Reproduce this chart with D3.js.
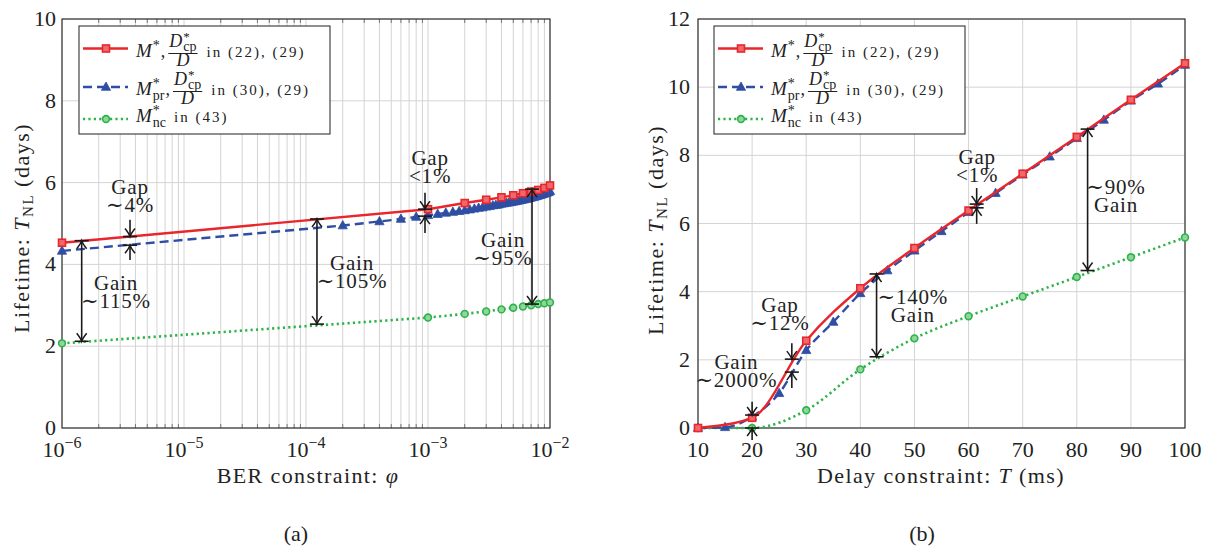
<!DOCTYPE html>
<meta charset="utf-8">
<script src="https://d3js.org/d3.v7.min.js"></script>
<style>
  body { margin: 0; background: #fff; }
  svg text { font-family: "Liberation Serif", "DejaVu Serif", "Noto Serif", "FreeSerif", "Tinos", "Times New Roman", Times, serif; fill: #222; }
</style>
<body>
<div id="my_dataviz"></div>
<script>
// ---- panel (a): lifetime vs BER constraint ----
var berMarks = [1e-6, 1e-3, 2e-3, 3e-3, 4e-3, 5e-3, 6e-3, 7e-3, 8e-3, 9e-3, 1e-2];
var lifeOptA = [4.53, 5.35, 5.50, 5.58, 5.64, 5.69, 5.74, 5.78, 5.82, 5.87, 5.93];
var lifeNcA  = [2.07, 2.70, 2.79, 2.85, 2.90, 2.94, 2.97, 3.00, 3.03, 3.05, 3.07];
var berPr = [1e-6, 2e-4, 4e-4, 6e-4, 8e-4, 1e-3, 1.2e-3, 1.4e-3, 1.6e-3, 1.8e-3, 2e-3,
  2.2e-3, 2.4e-3, 2.6e-3, 2.8e-3, 3e-3, 3.2e-3, 3.4e-3, 3.6e-3, 3.8e-3, 4e-3,
  4.2e-3, 4.4e-3, 4.6e-3, 4.8e-3, 5e-3, 5.2e-3, 5.4e-3, 5.6e-3, 5.8e-3, 6e-3,
  6.2e-3, 6.4e-3, 6.6e-3, 6.8e-3, 7e-3, 7.2e-3, 7.4e-3, 7.6e-3, 7.8e-3, 8e-3,
  8.2e-3, 8.4e-3, 8.6e-3, 8.8e-3, 9e-3, 9.2e-3, 9.4e-3, 9.6e-3, 9.8e-3, 1e-2];
var lifePrA = [4.33, 4.95, 5.05, 5.11, 5.16, 5.20, 5.23, 5.26, 5.28, 5.30, 5.32,
  5.34, 5.36, 5.38, 5.39, 5.41, 5.42, 5.44, 5.45, 5.46, 5.48,
  5.49, 5.50, 5.51, 5.52, 5.53, 5.54, 5.55, 5.56, 5.57, 5.58,
  5.59, 5.60, 5.61, 5.62, 5.63, 5.64, 5.65, 5.66, 5.67, 5.68,
  5.69, 5.70, 5.71, 5.72, 5.73, 5.74, 5.75, 5.76, 5.77, 5.79];

// ---- panel (b): lifetime vs delay constraint ----
var delayMarks = [10, 20, 30, 40, 50, 60, 70, 80, 90, 100];
var lifeOptB = [0, 0.30, 2.56, 4.10, 5.28, 6.38, 7.46, 8.54, 9.63, 10.70];
var lifeNcB  = [0, 0, 0.52, 1.72, 2.63, 3.28, 3.86, 4.43, 5.01, 5.59];
var delayPr = [10, 15, 20, 25, 30, 35, 40, 45, 50, 55, 60, 65, 70, 75, 80, 85, 90, 95, 100];
var lifePrB = [0, 0.02, 0.33, 1.02, 2.28, 3.11, 3.95, 4.62, 5.20, 5.77, 6.33, 6.89,
  7.43, 7.96, 8.50, 9.04, 9.60, 10.10, 10.65];

// ticks
var yTicksA = [0, 2, 4, 6, 8, 10];
var decadesA = [1e-6, 1e-5, 1e-4, 1e-3, 1e-2];
var decadeExpA = ["\u22126", "\u22125", "\u22124", "\u22123", "\u22122"];
var yTicksB = [0, 2, 4, 6, 8, 10, 12];
var xTicksB = [10, 20, 30, 40, 50, 60, 70, 80, 90, 100];

// annotations, in data units: arrow x, arrow ends, label anchor
var gapsA = [
  {x: 3.61e-6, top: 5.09, hi: 4.68, lo: 4.47, bottom: 4.11, lx: 3.61e-6, ly: 5.72, lines: ["Gap", "\u223C4%"]},
  {x: 9.45e-4, top: 5.75, hi: 5.35, lo: 5.18, bottom: 4.77, lx: 1.04e-3, ly: 6.43, lines: ["Gap", "<1%"]}
];
var gainsA = [
  {x: 1.45e-6, hi: 4.58, lo: 2.12, lx: 2.77e-6, ly: 3.37, lines: ["Gain", "\u223C115%"]},
  {x: 1.23e-4, hi: 5.11, lo: 2.54, lx: 2.38e-4, ly: 3.86, lines: ["Gain", "\u223C105%"]},
  {x: 7.12e-3, hi: 5.84, lo: 3.03, lx: 4.12e-3, ly: 4.43, lines: ["Gain", "\u223C95%"]}
];
var gapsB = [
  {x: 20, top: 0.77, hi: 0.38, lo: 0, bottom: -0.35, lx: 17.1, ly: 1.73, lines: ["Gain", "\u223C2000%"]},
  {x: 27.34, top: 2.49, hi: 2.02, lo: 1.64, bottom: 1.17, lx: 25.15, ly: 3.40, lines: ["Gap", "\u223C12%"]},
  {x: 61.5, top: 7.04, hi: 6.57, lo: 6.46, bottom: 5.99, lx: 61.6, ly: 7.75, lines: ["Gap", "<1%"]}
];
var gainsB = [
  {x: 43.0, hi: 4.52, lo: 2.09, lx: 49.7, ly: 3.65, lines: ["\u223C140%", "Gain"]},
  {x: 82.0, hi: 8.77, lo: 4.62, lx: 87.25, ly: 6.87, lines: ["\u223C90%", "Gain"]}
];

var RED = "#e8262b", BLUE = "#2f4ea3", GREEN = "#2eb34a", GRID = "#d4d4d4";
var SERIF = "'Liberation Serif', 'DejaVu Serif', 'Noto Serif', FreeSerif, Tinos, 'Times New Roman', Times, serif";

var svg = d3.select("#my_dataviz").append("svg")
  .attr("width", 1206).attr("height", 548)
  .attr("font-family", SERIF);

var plotTop = 19, plotBottom = 428;

// scales
var xA = d3.scaleLog().domain([1e-6, 1e-2]).range([62, 550]);
var yA = d3.scaleLinear().domain([0, 10]).range([plotBottom, plotTop]);
var xB = d3.scaleLinear().domain([10, 100]).range([698, 1185]);
var yB = d3.scaleLinear().domain([0, 12]).range([plotBottom, plotTop]);

// ---------- helpers ----------
function put(g, x, y, str, size, opts) {
  opts = opts || {};
  var t = g.append("text").attr("x", x).attr("y", y)
    .style("font-family", SERIF)
    .style("font-size", size + "px").text(str);
  if (opts.italic) t.style("font-style", "italic");
  if (opts.anchor) t.attr("text-anchor", opts.anchor);
  if (opts.spacing) t.style("letter-spacing", opts.spacing + "px");
  return t.node().getComputedTextLength();
}

function marker(g, type, x, y) {
  if (type == "square") {
    g.append("rect").attr("x", x - 3.5).attr("y", y - 3.5).attr("width", 7).attr("height", 7)
      .attr("fill", "#f0686b").attr("stroke", RED).attr("stroke-width", 1.6);
  } else if (type == "triangle") {
    g.append("path").attr("d", "M" + x + "," + (y - 5) + "L" + (x + 4.6) + "," + (y + 3.3) + "L" + (x - 4.6) + "," + (y + 3.3) + "Z")
      .attr("fill", BLUE).attr("stroke", BLUE).attr("stroke-width", 0.8);
  } else {
    g.append("circle").attr("cx", x).attr("cy", y).attr("r", 3.4)
      .attr("fill", "#8fd69c").attr("stroke", GREEN).attr("stroke-width", 1.6);
  }
}

var styles = {
  red: {color: RED, dash: null, width: 2.4, mark: "square"},
  blue: {color: BLUE, dash: "9,5", width: 2.4, mark: "triangle"},
  green: {color: GREEN, dash: "2.2,3.2", width: 2.6, mark: "circle"}
};

function series(g, xs, ys, x, y, st, curve) {
  var pts = xs.map(function(d, i) { return [d, ys[i]]; });
  g.append("path").datum(pts)
    .attr("fill", "none").attr("stroke", st.color).attr("stroke-width", st.width)
    .attr("stroke-dasharray", st.dash)
    .attr("d", d3.line().curve(curve)
      .x(function(d) { return x(d[0]); })
      .y(function(d) { return y(d[1]); }));
  pts.forEach(function(d) { marker(g, st.mark, x(d[0]), y(d[1])); });
}

function head(g, x, yt, dir) {
  // "to" style chevron with a bar at the tip; dir = +1 pointing down
  g.append("path")
    .attr("d", "M" + (x - 5) + "," + (yt - dir * 8) + "Q" + (x - 1) + "," + (yt - dir * 3) + " " + x + "," + yt +
      "Q" + (x + 1) + "," + (yt - dir * 3) + " " + (x + 5) + "," + (yt - dir * 8))
    .attr("fill", "none").attr("stroke", "#1a1a1a").attr("stroke-width", 1.5);
  g.append("line").attr("x1", x - 7).attr("x2", x + 7).attr("y1", yt).attr("y2", yt)
    .attr("stroke", "#1a1a1a").attr("stroke-width", 1.6);
}

function label(g, px, py, lines) {
  lines.forEach(function(s, i) {
    put(g, px, py + i * 18, s, 21, {anchor: "middle", spacing: 0.8});
  });
}

function gap(g, a, x, y) {
  var px = x(a.x);
  g.append("line").attr("x1", px).attr("x2", px).attr("y1", y(a.top)).attr("y2", y(a.hi))
    .attr("stroke", "#1a1a1a").attr("stroke-width", 1.6);
  head(g, px, y(a.hi), 1);
  g.append("line").attr("x1", px).attr("x2", px).attr("y1", y(a.bottom)).attr("y2", y(a.lo))
    .attr("stroke", "#1a1a1a").attr("stroke-width", 1.6);
  head(g, px, y(a.lo), -1);
  label(g, x(a.lx), y(a.ly), a.lines);
}

function gain(g, a, x, y) {
  var px = x(a.x);
  g.append("line").attr("x1", px).attr("x2", px).attr("y1", y(a.hi)).attr("y2", y(a.lo))
    .attr("stroke", "#1a1a1a").attr("stroke-width", 1.6);
  head(g, px, y(a.hi), -1);
  head(g, px, y(a.lo), 1);
  label(g, x(a.lx), y(a.ly), a.lines);
}

function legend(g, x0) {
  g.append("rect").attr("x", x0).attr("y", 26).attr("width", 251).attr("height", 108)
    .attr("fill", "#fff").attr("stroke", "#333").attr("stroke-width", 1.1);
  var rows = [{st: styles.red, ly: 48.5}, {st: styles.blue, ly: 87}, {st: styles.green, ly: 119}];
  rows.forEach(function(r) {
    g.append("line").attr("x1", x0 + 4).attr("x2", x0 + 49).attr("y1", r.ly).attr("y2", r.ly)
      .attr("stroke", r.st.color).attr("stroke-width", r.st.width).attr("stroke-dasharray", r.st.dash);
    marker(g, r.st.mark, x0 + 27, r.ly);
  });
  var tx = x0 + 57;
  fracRow(g, tx, 57, null, "in (22), (29)");
  fracRow(g, tx, 95, "pr", "in (30), (29)");
  // row 3
  var b = 122, x = tx;
  var w = put(g, x, b, "M", 19, {italic: true});
  put(g, x + w + 1, b - 7, "*", 14);
  var ws = put(g, x + w + 1, b + 5, "nc", 14);
  x += w + 1 + ws + 8;
  put(g, x, b, "in (43)", 15, {spacing: 2});
}

function fracRow(g, x, b, sub, tail) {
  var w = put(g, x, b, "M", 19, {italic: true});
  put(g, x + w + 1, b - 7, "*", 14);
  var ws = 7;
  if (sub) ws = put(g, x + w + 1, b + 5, sub, 14);
  x += w + 1 + ws + 1;
  x += put(g, x, b, ",", 18) + 4;
  var wd = put(g, x, b - 10, "D", 18, {italic: true});
  put(g, x + wd + 1, b - 16, "*", 13);
  var wc = put(g, x + wd + 1, b - 6, "cp", 14);
  var nw = wd + 1 + wc;
  g.append("line").attr("x1", x - 1).attr("x2", x + nw + 1).attr("y1", b - 3.5).attr("y2", b - 3.5)
    .attr("stroke", "#222").attr("stroke-width", 1);
  put(g, x + nw / 2, b + 9, "D", 18, {italic: true, anchor: "middle"});
  x += nw + 10;
  put(g, x, b, tail, 15, {spacing: 2});
}

function yTitle(g, cx, cy) {
  var t = g.append("text").attr("transform", "translate(" + cx + "," + cy + ") rotate(-90)")
    .attr("text-anchor", "middle").style("font-family", SERIF).style("font-size", "22px")
    .style("letter-spacing", "1.5px");
  t.append("tspan").text("Lifetime: ");
  t.append("tspan").style("font-style", "italic").text("T");
  t.append("tspan").attr("dy", 4).style("font-size", "15px").text("NL");
  t.append("tspan").attr("dy", -4).text(" (days)");
}

// ---------- panel (a) ----------
var ga = svg.append("g");
var minorA = [];
decadesA.slice(0, 4).forEach(function(d) {
  for (var k = 2; k <= 9; k++) minorA.push(d * k);
});
ga.selectAll(".vgrid").data(minorA.concat(decadesA)).enter().append("line")
  .attr("x1", function(d) { return xA(d); }).attr("x2", function(d) { return xA(d); })
  .attr("y1", plotTop).attr("y2", plotBottom).attr("stroke", GRID).attr("stroke-width", 1);
ga.selectAll(".hgrid").data(yTicksA).enter().append("line")
  .attr("x1", 62).attr("x2", 550)
  .attr("y1", function(d) { return yA(d); }).attr("y2", function(d) { return yA(d); })
  .attr("stroke", GRID).attr("stroke-width", 1);
// minor ticks inside
minorA.forEach(function(d) {
  ga.append("line").attr("x1", xA(d)).attr("x2", xA(d)).attr("y1", plotBottom).attr("y2", plotBottom - 4).attr("stroke", "#777");
  ga.append("line").attr("x1", xA(d)).attr("x2", xA(d)).attr("y1", plotTop).attr("y2", plotTop + 4).attr("stroke", "#777");
});
ga.append("rect").attr("x", 62).attr("y", plotTop).attr("width", 488).attr("height", plotBottom - plotTop)
  .attr("fill", "none").attr("stroke", "#222").attr("stroke-width", 1.1);

yTicksA.forEach(function(d) {
  put(ga, 56, yA(d) + 7, String(d), 22, {anchor: "end"});
});
decadesA.forEach(function(d, i) {
  var t = ga.append("text").attr("x", xA(d)).attr("y", 457).attr("text-anchor", "middle")
    .style("font-family", SERIF).style("font-size", "22px");
  t.append("tspan").text("10");
  t.append("tspan").attr("dy", -9).style("font-size", "16px").text(decadeExpA[i]);
});
var xt = ga.append("text").attr("x", 308).attr("y", 483).attr("text-anchor", "middle")
  .style("font-family", SERIF).style("font-size", "22px").style("letter-spacing", "1.4px");
xt.append("tspan").text("BER constraint: ");
xt.append("tspan").style("font-style", "italic").text("\u03C6");
yTitle(ga, 29, 228);
put(ga, 296, 541, "(a)", 22, {anchor: "middle"});

series(ga, berMarks, lifeNcA, xA, yA, styles.green, d3.curveLinear);
series(ga, berPr, lifePrA, xA, yA, styles.blue, d3.curveLinear);
series(ga, berMarks, lifeOptA, xA, yA, styles.red, d3.curveLinear);

gapsA.forEach(function(a) { gap(ga, a, xA, yA); });
gainsA.forEach(function(a) { gain(ga, a, xA, yA); });
legend(ga, 79);

// ---------- panel (b) ----------
var gb = svg.append("g");
gb.selectAll(".vgrid").data(xTicksB).enter().append("line")
  .attr("x1", function(d) { return xB(d); }).attr("x2", function(d) { return xB(d); })
  .attr("y1", plotTop).attr("y2", plotBottom).attr("stroke", GRID).attr("stroke-width", 1);
gb.selectAll(".hgrid").data(yTicksB).enter().append("line")
  .attr("x1", 698).attr("x2", 1185)
  .attr("y1", function(d) { return yB(d); }).attr("y2", function(d) { return yB(d); })
  .attr("stroke", GRID).attr("stroke-width", 1);
gb.append("rect").attr("x", 698).attr("y", plotTop).attr("width", 487).attr("height", plotBottom - plotTop)
  .attr("fill", "none").attr("stroke", "#222").attr("stroke-width", 1.1);

yTicksB.forEach(function(d) {
  put(gb, 690, yB(d) + 7, String(d), 22, {anchor: "end"});
});
xTicksB.forEach(function(d) {
  put(gb, xB(d), 457, String(d), 22, {anchor: "middle"});
});
var xt2 = gb.append("text").attr("x", 941).attr("y", 483).attr("text-anchor", "middle")
  .style("font-family", SERIF).style("font-size", "22px").style("letter-spacing", "1.4px");
xt2.append("tspan").text("Delay constraint: ");
xt2.append("tspan").style("font-style", "italic").text("T");
xt2.append("tspan").text(" (ms)");
yTitle(gb, 663, 230);
put(gb, 922, 541, "(b)", 22, {anchor: "middle"});

series(gb, delayMarks, lifeNcB, xB, yB, styles.green, d3.curveMonotoneX);
series(gb, delayPr, lifePrB, xB, yB, styles.blue, d3.curveMonotoneX);
series(gb, delayMarks, lifeOptB, xB, yB, styles.red, d3.curveMonotoneX);

gapsB.forEach(function(a) { gap(gb, a, xB, yB); });
gainsB.forEach(function(a) { gain(gb, a, xB, yB); });
legend(gb, 714);
</script>
</body>
